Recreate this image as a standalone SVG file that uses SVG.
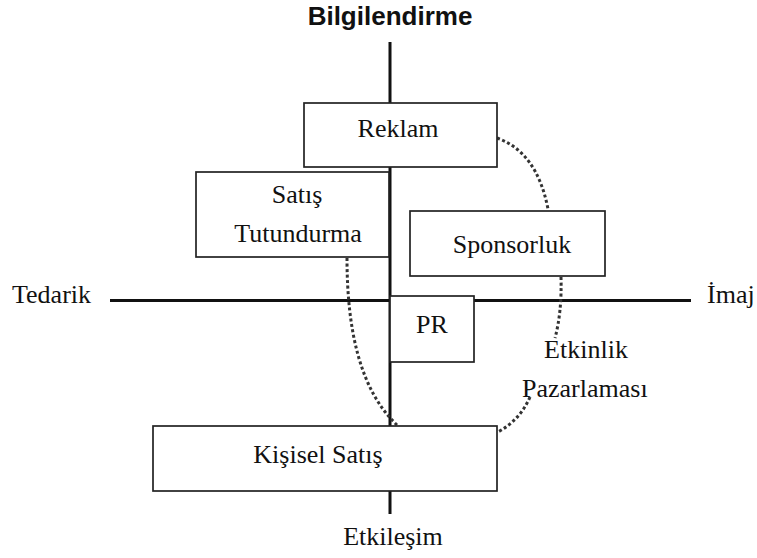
<svg xmlns="http://www.w3.org/2000/svg" width="757" height="558" viewBox="0 0 757 558">
<style>
.t{font-family:"Liberation Serif","Times New Roman",serif;font-size:26px;fill:#111}
.b{font-family:"Liberation Sans",Arial,sans-serif;font-size:26px;font-weight:bold;fill:#111}
.axis{stroke:#111;stroke-width:3;fill:none}
.dot{stroke:#333;stroke-width:3;fill:none;stroke-dasharray:3 2.5}
.box{fill:#fff;stroke:#222;stroke-width:1.7}
</style>
<rect width="757" height="558" fill="#fff"/>
<g id="axes">
<line class="axis" x1="390" y1="42" x2="390" y2="514"/>
<line class="axis" x1="110" y1="300.5" x2="691" y2="300.5"/>
</g>
<g id="connectors">
<path class="dot" d="M497,138 Q537,152 548,209"/>
<path class="dot" d="M561,277 Q562,312 555,338"/>
<path class="dot" d="M530,397 Q520,420 498,432"/>
<path class="dot" d="M347,258 C347,330 360,390 397,425"/>
</g>
<g id="reklam"><rect class="box" x="304" y="103" width="193" height="64"/><text class="t" x="398" y="137" text-anchor="middle">Reklam</text></g>
<g id="satis-tutundurma"><rect class="box" x="196" y="172" width="193" height="85"/><text class="t" x="297" y="203" text-anchor="middle">Satış</text><text class="t" x="298" y="242" text-anchor="middle">Tutundurma</text></g>
<g id="sponsorluk"><rect class="box" x="410" y="211" width="195" height="65"/><text class="t" x="512" y="253" text-anchor="middle">Sponsorluk</text></g>
<g id="pr"><rect class="box" x="390" y="296" width="84" height="66"/><text class="t" x="432" y="333" text-anchor="middle">PR</text></g>
<g id="kisisel-satis"><rect class="box" x="153" y="426" width="344" height="65"/><text class="t" x="318" y="463" text-anchor="middle">Kişisel Satış</text></g>
<g id="etkinlik"><text class="t" x="586" y="358" text-anchor="middle">Etkinlik</text><text class="t" x="522" y="397">Pazarlaması</text></g>
<g id="labels">
<text class="b" x="390" y="25" text-anchor="middle">Bilgilendirme</text>
<text class="t" x="12" y="303">Tedarik</text>
<text class="t" x="707" y="303">İmaj</text>
<text class="t" x="393" y="545" text-anchor="middle">Etkileşim</text>
</g>
</svg>
